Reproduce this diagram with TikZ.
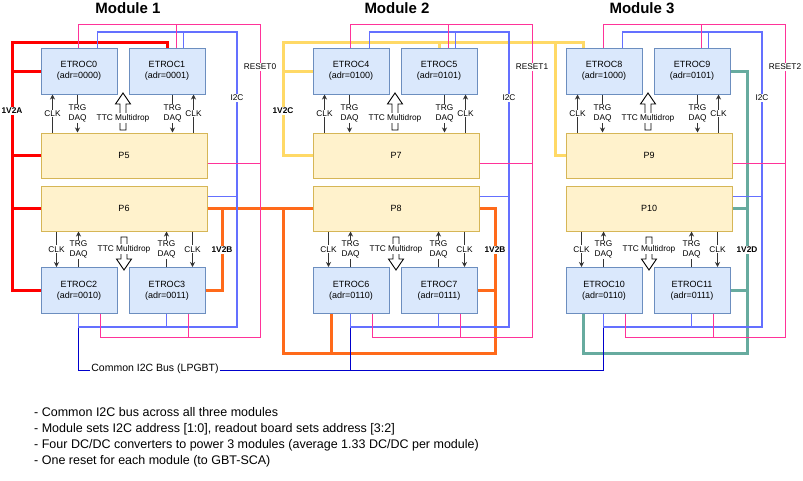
\documentclass[tikz,border=0pt]{standalone}
\usepackage{fontspec}
\setmainfont{Liberation Sans}
\usetikzlibrary{arrows.meta,calc}
\definecolor{etrocfill}{HTML}{DAE8FC}
\definecolor{etrocdraw}{HTML}{6C8EBF}
\definecolor{pfill}{HTML}{FFF2CC}
\definecolor{pdraw}{HTML}{D6B656}
\definecolor{pwrred}{HTML}{FF0000}
\definecolor{pwrorange}{HTML}{FF6A1A}
\definecolor{pwryellow}{HTML}{FFD966}
\definecolor{pwrteal}{HTML}{67AB9F}
\definecolor{i2cblue}{HTML}{6470FF}
\definecolor{busblue}{HTML}{0000CC}
\definecolor{resetpink}{HTML}{FF3399}
\begin{document}
\begin{tikzpicture}[x=1pt,y=-1pt,
 etroc/.style={draw=etrocdraw,fill=etrocfill,line width=1pt,minimum width=76pt,minimum height=46pt,align=center,font=\fontsize{9}{11}\selectfont,inner sep=0pt},
 pbox/.style={draw=pdraw,fill=pfill,line width=1pt,minimum width=166pt,minimum height=45pt,font=\fontsize{9}{11}\selectfont},
 sig/.style={draw=black!80,line width=0.9pt,-{Stealth[length=5pt,width=5pt]}},
 lbl/.style={fill=white,inner sep=1pt,font=\fontsize{8.3}{9.3}\selectfont,align=center,text=black},
 vlbl/.style={fill=white,inner sep=1pt,font=\bfseries\fontsize{8.3}{9.3}\selectfont},
 hollow/.style={draw=black,fill=white,line width=0.9pt,line join=miter},
 pwr/.style={line width=3pt},
 i2c/.style={draw=i2cblue,line width=1.2pt},
 rst/.style={draw=resetpink,line width=1pt},
 bus/.style={draw=busblue,line width=1pt},
 title/.style={font=\bfseries\fontsize{15}{18}\selectfont},
 note/.style={anchor=base west,font=\fontsize{12.5}{15}\selectfont,inner sep=0pt}
]
\fill[white] (0,0) rectangle (803,480);
\useasboundingbox (0,0) rectangle (803,480);

% titles
\node[title] (T1) at (128,8.5) {Module 1};
\node[title] (T2) at (397,8.5) {Module 2};
\node[title] (T3) at (642,8.5) {Module 3};

% hollow TTC arrows
\foreach \x in {41,313,566}{
  \draw[hollow] (\x+79,130) -- (\x+79,104) -- (\x+74.5,104) -- (\x+82,93) -- (\x+89.5,104) -- (\x+85,104) -- (\x+85,130) -- cycle;
  \draw[hollow] (\x+80,237) -- (\x+80,259) -- (\x+75.5,259) -- (\x+83,270) -- (\x+90.5,259) -- (\x+86,259) -- (\x+86,237) -- cycle;
}

% boxes
\node[etroc] (TL1) at (79,71) {ETROC0\\(adr=0000)};
\node[etroc] (TR1) at (167,71) {ETROC1\\(adr=0001)};
\node[pbox] (PT1) at (124,155.5) {P5};
\node[pbox] (PB1) at (124,208.5) {P6};
\node[etroc] (BL1) at (79,290.5) {ETROC2\\(adr=0010)};
\node[etroc] (BR1) at (167,290.5) {ETROC3\\(adr=0011)};

\node[etroc] (TL2) at (351,71) {ETROC4\\(adr=0100)};
\node[etroc] (TR2) at (439,71) {ETROC5\\(adr=0101)};
\node[pbox] (PT2) at (396,155.5) {P7};
\node[pbox] (PB2) at (396,208.5) {P8};
\node[etroc] (BL2) at (351,290.5) {ETROC6\\(adr=0110)};
\node[etroc] (BR2) at (439,290.5) {ETROC7\\(adr=0111)};

\node[etroc] (TL3) at (604,71) {ETROC8\\(adr=1000)};
\node[etroc] (TR3) at (692,71) {ETROC9\\(adr=0101)};
\node[pbox] (PT3) at (649,155.5) {P9};
\node[pbox] (PB3) at (649,208.5) {P10};
\node[etroc] (BL3) at (604,290.5) {ETROC10\\(adr=0110)};
\node[etroc] (BR3) at (692,290.5) {ETROC11\\(adr=0111)};

% power: 1V2A
\coordinate (rA) at (12,42);
\draw[pwr,draw=pwrred] (TR1.north) |- (rA) |- (BL1.west);
\draw[pwr,draw=pwrred] (TL1.west) -- (TL1.west -| rA);
\draw[pwr,draw=pwrred] (PT1.west) -- (PT1.west -| rA);
\draw[pwr,draw=pwrred] (PB1.west) -- (PB1.west -| rA);
% power: 1V2B
\coordinate (oA) at (222,208.5);
\coordinate (oB) at (283,208.5);
\coordinate (oC) at (495,353);
\draw[pwr,draw=pwrorange] (PB1.east) -- (PB2.west);
\draw[pwr,draw=pwrorange] (oA) |- (BR1.east);
\draw[pwr,draw=pwrorange] (oB) |- (oC) |- (PB2.east);
\draw[pwr,draw=pwrorange] (BR2.east) -- (BR2.east -| oC);
\draw[pwr,draw=pwrorange] ($(BL2.south west)+(19,0)$) coordinate (a) -- (a |- oC);
% power: 1V2C
\coordinate (yA) at (283,42);
\coordinate (yB) at (555,42);
\draw[pwr,draw=pwryellow] ($(TL3.north west)+(18,0)$) |- (yA) |- (PT2.west);
\draw[pwr,draw=pwryellow] (TR2.north) -- (TR2.north |- yA);
\draw[pwr,draw=pwryellow] (TL2.west) -- (TL2.west -| yA);
\draw[pwr,draw=pwryellow] (yB) |- (PT3.west);
% power: 1V2D
\coordinate (gA) at (747,353);
\draw[pwr,draw=pwrteal] (TR3.east) -| (gA) -| ($(BL3.south west)+(18,0)$);
\draw[pwr,draw=pwrteal] (PB3.east) -- (PB3.east -| gA);
\draw[pwr,draw=pwrteal] (BR3.east) -- (BR3.east -| gA);

% per-module I2C, reset, signals
\foreach \m/\x/\r in {1/41/0,2/313/1,3/566/2}{
  % I2C
  \coordinate (itop\m) at (\x+196,32);
  \coordinate (ibot\m) at (\x+196,327);
  \draw[i2c] ($(TL\m.north west)+(57,0)$) |- (itop\m) -- (ibot\m) -| ($(BL\m.south west)+(38,0)$);
  \draw[i2c] ($(TR\m.north west)+(55,0)$) coordinate (a) -- (a |- itop\m);
  \draw[i2c] ($(BR\m.south west)+(38,0)$) coordinate (a) -- (a |- ibot\m);
  \draw[i2c] ($(PB\m.north east)+(0,11)$) coordinate (a) -- (a -| itop\m);
  \node[lbl] (I2C\m) at (\x+196,98) {I2C};
  % reset
  \coordinate (rtop\m) at (\x+219,24);
  \coordinate (rbot\m) at (\x+219,337);
  \draw[rst] ($(TL\m.north west)+(38,0)$) |- (rtop\m) -- (rbot\m) -| ($(BL\m.south west)+(60,0)$);
  \draw[rst] ($(TR\m.north west)+(48,0)$) coordinate (a) -- (a |- rtop\m);
  \draw[rst] ($(BR\m.south west)+(60,0)$) coordinate (a) -- (a |- rbot\m);
  \draw[rst] ($(PT\m.north east)+(0,31)$) coordinate (a) -- (a -| rtop\m);
  \node[lbl] (RS\m) at (\x+219,67) {RESET\r};
  % top signals
  \draw[sig] ($(PT\m.north west)+(12,0)$) -- ($(TL\m.south west)+(12,0)$) node[lbl,midway]{CLK};
  \draw[sig] ($(TL\m.south west)+(37,0)$) -- ($(PT\m.north west)+(37,0)$) node[lbl,midway]{TRG\\DAQ};
  \draw[sig] ($(TR\m.south west)+(44,0)$) -- ($(PT\m.north west)+(132,0)$) node[lbl,midway]{TRG\\DAQ};
  \draw[sig] ($(PT\m.north west)+(153,0)$) -- ($(TR\m.south west)+(65,0)$) node[lbl,midway]{CLK};
  \node[lbl] (TTCa\m) at (\x+82,118) {TTC Multidrop};
  % bottom signals
  \draw[sig] ($(PB\m.south west)+(16,0)$) -- ($(BL\m.north west)+(16,0)$) node[lbl,midway]{CLK};
  \draw[sig] ($(BL\m.north west)+(38,0)$) -- ($(PB\m.south west)+(38,0)$) node[lbl,midway]{TRG\\DAQ};
  \draw[sig] ($(BR\m.north west)+(38,0)$) -- ($(PB\m.south west)+(126,0)$) node[lbl,midway]{TRG\\DAQ};
  \draw[sig] ($(PB\m.south west)+(152,0)$) -- ($(BR\m.north west)+(64,0)$) node[lbl,midway]{CLK};
  \node[lbl] (TTCb\m) at (\x+83,249) {TTC Multidrop};
}

% power labels
\node[vlbl] (LA) at (12,111) {1V2A};
\node[vlbl] (LB1) at (222,250) {1V2B};
\node[vlbl] (LB2) at (495,250) {1V2B};
\node[vlbl] (LC) at (283,111) {1V2C};
\node[vlbl] (LD) at (747,250) {1V2D};

% common bus
\draw[bus] ($(BL1.south west)+(38,14)$) |- ($(BL3.south west)+(38,56)$) -- ($(BL3.south west)+(38,14)$);
\draw[bus] ($(BL2.south west)+(38,14)$) coordinate (a) -- ($(BL2.south west)+(38,56)$);
\node[lbl,font=\fontsize{10.5}{12}\selectfont] (BUS) at (155,369) {Common I2C Bus (LPGBT)};

% notes
\node[note] (N1) at (34,416) {- Common I2C bus across all three modules};
\node[note] (N2) at (34,432) {- Module sets I2C address [1:0], readout board sets address [3:2]};
\node[note] (N3) at (34,448) {- Four DC/DC converters to power 3 modules (average 1.33 DC/DC per module)};
\node[note] (N4) at (34,464) {- One reset for each module (to GBT-SCA)};
\end{tikzpicture}
\end{document}
